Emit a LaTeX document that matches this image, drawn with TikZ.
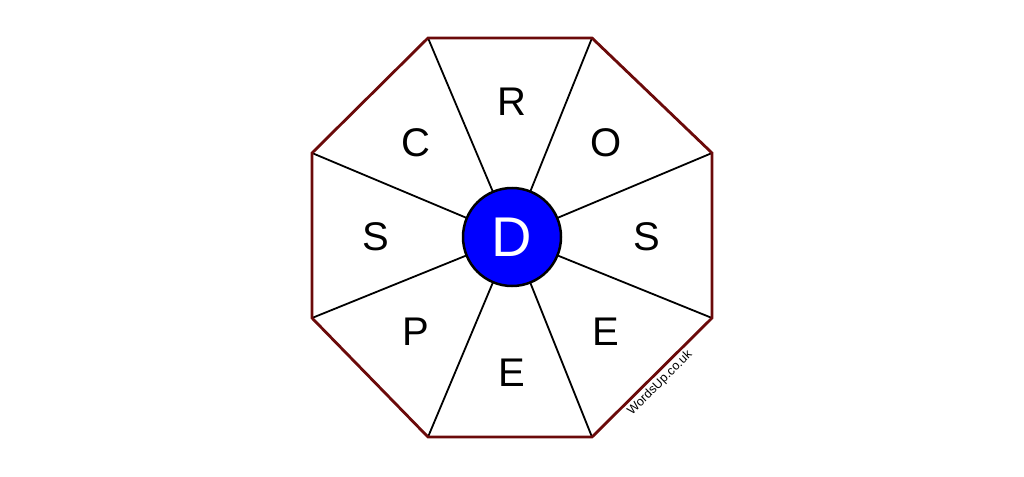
\documentclass[tikz,border=0pt]{standalone}
\usepackage{fontspec}
\setmainfont{Liberation Sans}
\definecolor{edgered}{HTML}{6B0A0A}
\definecolor{hubblue}{HTML}{0000FF}
\begin{document}
\begin{tikzpicture}[x=1pt,y=-1pt,
  spoke/.style={draw=black,line width=1.8pt},
  rim/.style={draw=edgered,line width=2.8pt,line join=miter},
  letter/.style={font=\fontsize{40}{40}\selectfont,text=black,inner sep=0pt},
  hub/.style={circle,draw=black,line width=2.5pt,fill=hubblue,minimum size=98pt,inner sep=0pt,text=white,font=\fontsize{56}{56}\selectfont}]
\useasboundingbox (0,0) rectangle (1024,476);
\coordinate (v1) at (428,38);
\coordinate (v2) at (592,38);
\coordinate (v3) at (712,153);
\coordinate (v4) at (712,318);
\coordinate (v5) at (592,437);
\coordinate (v6) at (428,437);
\coordinate (v7) at (312,318);
\coordinate (v8) at (312,153);
\coordinate (c) at (512,237);
\foreach \v in {v1,v2,v3,v4,v5,v6,v7,v8} \draw[spoke] (c) -- (\v);
\draw[rim] (v1) -- (v2) -- (v3) -- (v4) -- (v5) -- (v6) -- (v7) -- (v8) -- cycle;
\node[hub] (h) at (c) {D};
\node[letter] (lr) at (512,102) {R};
\node[letter] (lo) at (606,143) {O};
\node[letter] (ls1) at (647,237) {S};
\node[letter] (le1) at (606,332) {E};
\node[letter] (le2) at (512,373) {E};
\node[letter] (lp) at (416,332) {P};
\node[letter] (ls2) at (376,237) {S};
\node[letter] (lc) at (416,143) {C};
\node[rotate=44.8,font=\fontsize{12.5}{12.5}\selectfont,inner sep=0pt] (wm) at (660,383) {WordsUp.co.uk};
\end{tikzpicture}
\end{document}
